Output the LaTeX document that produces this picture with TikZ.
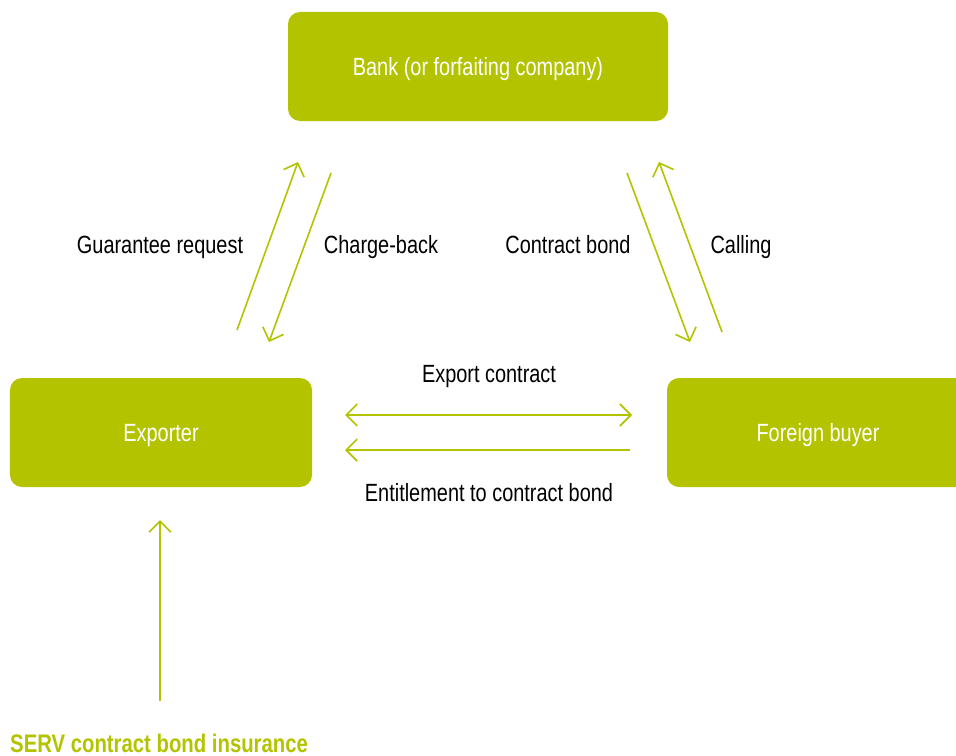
\documentclass[tikz,border=0pt]{standalone}
\usepackage{fontspec}
\setmainfont[FakeStretch=0.80]{Liberation Sans}
\usetikzlibrary{arrows.meta}
\definecolor{servgreen}{RGB}{179,195,0}
\tikzset{
  tip/.tip={Straight Barb[length=11bp,width=22bp,line width=1.6bp]},
  box/.style={fill=servgreen, rounded corners=12bp, minimum width=302bp, minimum height=109bp, text=white, font=\fontsize{25}{28}\selectfont, inner sep=0pt, text height=18bp, text depth=0bp},
  lbl/.style={font=\fontsize{25}{28}\selectfont, text=black, inner sep=0pt, text height=18bp, text depth=0bp},
  conn/.style={draw=servgreen, line width=1.6bp, -tip},
  dconn/.style={draw=servgreen, line width=1.6bp, tip-tip}
}
\begin{document}
\begin{tikzpicture}[x=1bp,y=-1bp]
\useasboundingbox (0,0) rectangle (956,756);
\node[box, minimum width=380bp] (bank) at (478,66.5) {Bank (or forfaiting company)};
\node[box] (exp) at (161,432.5) {Exporter};
\node[box] (buy) at (818,432.5) {Foreign buyer};
% diagonal connectors
\coordinate (a1s) at (237,330); \coordinate (a1e) at (298,162);
\coordinate (a2s) at (331,173); \coordinate (a2e) at (269,342);
\coordinate (a3s) at (627,173); \coordinate (a3e) at (690,342);
\coordinate (a4s) at (722,332); \coordinate (a4e) at (659,162);
\draw[conn] (a1s) -- (a1e);
\draw[conn] (a2s) -- (a2e);
\draw[conn] (a3s) -- (a3e);
\draw[conn] (a4s) -- (a4e);
% horizontal
\coordinate (h1s) at (345,415); \coordinate (h1e) at (632,415);
\coordinate (h2s) at (630,450); \coordinate (h2e) at (345,450);
\draw[dconn] (h1s) -- (h1e);
\draw[conn] (h2s) -- (h2e);
% vertical
\coordinate (vs) at (160,701); \coordinate (ve) at (160,520);
\draw[conn] (vs) -- (ve);
% labels
\node[lbl] (l1) at (160,244) {Guarantee request};
\node[lbl] (l2) at (381,244) {Charge-back};
\node[lbl] (l3) at (568,244) {Contract bond};
\node[lbl] (l4) at (741,244) {Calling};
\node[lbl] (l5) at (489,373) {Export contract};
\node[lbl] (l6) at (489,492) {Entitlement to contract bond};
\node[anchor=base west, inner sep=0pt, text=servgreen, font=\fontsize{25.5}{28}\selectfont\bfseries] (serv) at (10,752.5) {SERV contract bond insurance};
\end{tikzpicture}
\end{document}
